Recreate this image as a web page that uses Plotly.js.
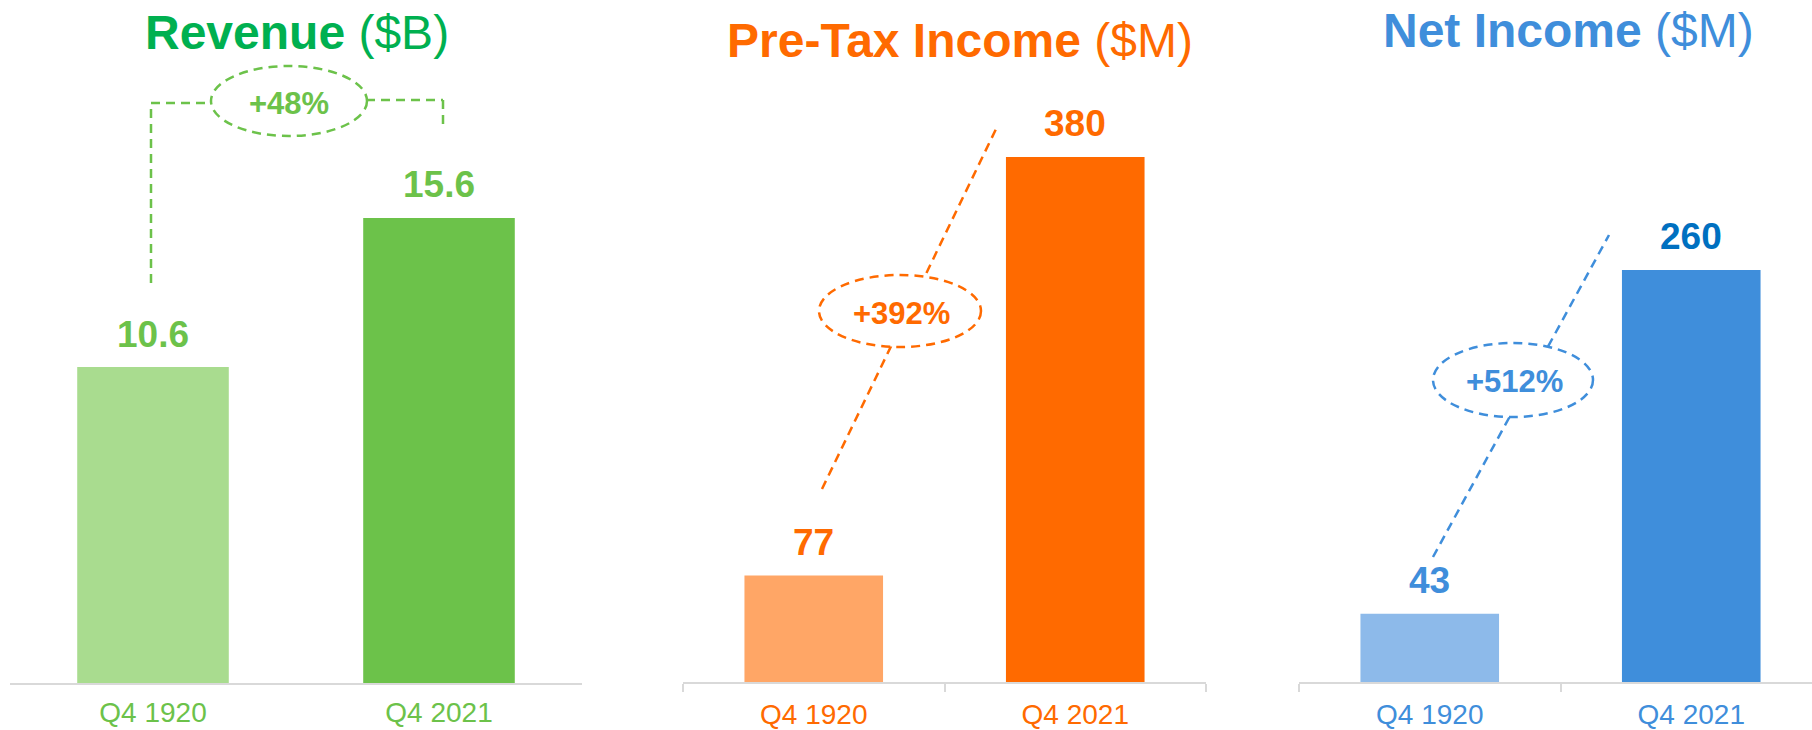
<!DOCTYPE html>
<html><head><meta charset="utf-8">
<script src="https://cdn.plot.ly/plotly-3.0.1.min.js"></script>
<style>html,body{margin:0;padding:0;background:#fff}#chart{width:1812px;height:730px}</style>
</head><body><div id="chart"></div>
<script>
// ---- data ----
const categories = ['Q4 1920', 'Q4 2021'];
const revenue = [10.6, 15.6];        // $B
const preTaxIncome = [77, 380];      // $M
const netIncome = [43, 260];         // $M
const revenueLabels = ['10.6', '15.6'];
const preTaxLabels = ['77', '380'];
const netLabels = ['43', '260'];
const growthLabels = ['+48%', '+392%', '+512%'];
const titleMain = ['Revenue', 'Pre-Tax Income', 'Net Income'];
const titleUnit = ['($B)', '($M)', '($M)'];

// ---- styling ----
const W = 1812, H = 730;
const px = x => x / W;
const py = y => 1 - y / H;
const FONT = 'Liberation Sans, Arial, Helvetica, sans-serif';
const GREEN_T = '#00B050', GREEN = '#6CC24A', GREEN_L = '#A9DC8F';
const ORANGE = '#FF6A00', ORANGE_L = '#FFA666';
const BLUE = '#3F8EDB', BLUE_L = '#8DBAEA', BLUE_D = '#0070C0';
const AXIS_C = '#D9D9D9';
const DASH = '9px,6px';

const panels = [
  {vals: revenue, labels: revenueLabels, colors: [GREEN_L, GREEN], labelColors: [GREEN, GREEN], tick: GREEN, xa: 'x', ya: 'y'},
  {vals: preTaxIncome, labels: preTaxLabels, colors: [ORANGE_L, ORANGE], labelColors: [ORANGE, ORANGE], tick: ORANGE, xa: 'x2', ya: 'y2'},
  {vals: netIncome, labels: netLabels, colors: [BLUE_L, BLUE], labelColors: [BLUE, BLUE_D], tick: BLUE, xa: 'x3', ya: 'y3'}
];

const traces = panels.map(p => ({
  type: 'bar', x: categories, y: p.vals, xaxis: p.xa, yaxis: p.ya,
  marker: {color: p.colors, line: {width: 0}}, width: 0.53,
  hoverinfo: 'skip', showlegend: false
}));

const annotations = [];
panels.forEach(p => {
  categories.forEach((c, i) => {
    annotations.push({
      xref: p.xa, yref: p.ya, x: c, y: p.vals[i], text: '<b>' + p.labels[i] + '</b>',
      showarrow: false, yanchor: 'middle', yshift: 33,
      font: {family: FONT, size: 37, color: p.labelColors[i]}
    });
  });
});

const titleColors = [GREEN_T, ORANGE, BLUE];
const titleX = [296.5, 960, 1568];
const titleY = [33, 40, 31];
titleMain.forEach((t, i) => {
  annotations.push({
    xref: 'paper', yref: 'paper', x: px(titleX[i]), y: py(titleY[i]),
    xanchor: 'center', yanchor: 'middle', showarrow: false,
    text: '<b>' + t + '</b> ' + titleUnit[i],
    font: {family: FONT, size: 48, color: titleColors[i]}
  });
});

const growthColors = [GREEN, ORANGE, BLUE];
const growthPos = [[289, 103], [901, 313], [1514, 382]];
growthLabels.forEach((g, i) => {
  annotations.push({
    xref: 'paper', yref: 'paper', x: px(growthPos[i][0]), y: py(growthPos[i][1]),
    xanchor: 'center', yanchor: 'middle', showarrow: false,
    text: '<b>' + g + '</b>',
    font: {family: FONT, size: 31, color: growthColors[i]}
  });
});

function seg(x0, y0, x1, y1, color) {
  return {type: 'line', xref: 'paper', yref: 'paper', x0: px(x0), y0: py(y0), x1: px(x1), y1: py(y1),
    line: {color: color, width: 2.5, dash: DASH}};
}
function ell(cx, cy, rx, ry, color) {
  return {type: 'circle', xref: 'paper', yref: 'paper', x0: px(cx - rx), x1: px(cx + rx), y0: py(cy + ry), y1: py(cy - ry),
    fillcolor: '#FFFFFF', line: {color: color, width: 2.5, dash: DASH}};
}
const shapes = [
  // revenue bracket
  seg(151, 283, 151, 103, GREEN), seg(151, 103, 212, 103, GREEN),
  seg(366, 100, 443, 100, GREEN), seg(443, 100, 443, 129, GREEN),
  ell(289, 101, 78, 35, GREEN),
  // pre-tax connector
  seg(822, 489, 997, 127, ORANGE),
  ell(900, 311, 81, 36, ORANGE),
  // net income connector
  seg(1433, 557, 1609, 235, BLUE),
  ell(1513, 380, 80, 37, BLUE)
];

function xaxis(domain, range, tickColor, ticks) {
  return {
    domain: domain, range: range, type: 'category', fixedrange: true,
    showline: true, linecolor: AXIS_C, linewidth: 2, showgrid: false, zeroline: false,
    ticks: ticks ? 'outside' : '', ticklen: 8, tickwidth: 2, tickcolor: AXIS_C, tickson: 'boundaries',
    tickfont: {family: FONT, size: 28, color: tickColor},
    ticklabelstandoff: ticks ? 6 : 3
  };
}
function yaxis(domain, range, anchor) {
  return {domain: domain, range: range, visible: false, showgrid: false, zeroline: false, fixedrange: true, anchor: anchor};
}

const layout = {
  width: W, height: H, margin: {l: 0, r: 0, t: 0, b: 0},
  paper_bgcolor: '#FFFFFF', plot_bgcolor: '#FFFFFF',
  bargap: 0.47, showlegend: false,
  xaxis: Object.assign(xaxis([px(10), px(582)], [-0.5, 1.5], GREEN, false), {anchor: 'y'}),
  xaxis2: Object.assign(xaxis([px(683), px(1206)], [-0.5, 1.5], ORANGE, true), {anchor: 'y2'}),
  xaxis3: Object.assign(xaxis([px(1299), 1], [-0.5, -0.5 + (1812 - 1299) / 261.5], BLUE, true), {anchor: 'y3'}),
  yaxis: yaxis([47 / H, 1], [0, 683 / 29.81], 'x'),
  yaxis2: yaxis([48 / H, 1], [0, 682 / 1.3816], 'x2'),
  yaxis3: yaxis([48 / H, 1], [0, 682 / 1.585], 'x3'),
  annotations: annotations, shapes: shapes
};

Plotly.newPlot('chart', traces, layout, {displayModeBar: false, staticPlot: true});
</script></body></html>
